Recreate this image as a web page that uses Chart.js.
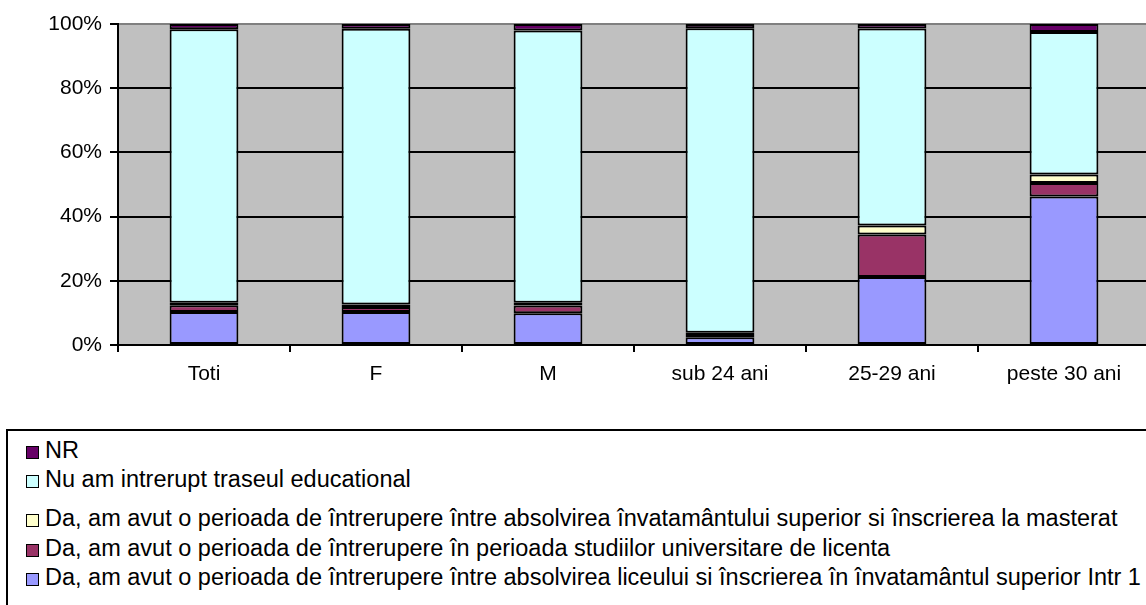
<!DOCTYPE html>
<html>
<head>
<meta charset="utf-8">
<script src="https://cdn.jsdelivr.net/npm/chart.js@4.4.0/dist/chart.umd.min.js"></script>
<style>
  html, body { margin: 0; padding: 0; background: #fff; overflow: hidden; width: 1146px; height: 605px; }
  #wrap { position: absolute; left: 0; top: 0; width: 1152px; height: 400px; }
  #legend {
    position: absolute; left: 6px; top: 429px; width: 1160px; height: 190px;
    border: 2px solid #000; box-sizing: border-box;
    font-family: "Liberation Sans", Arial, sans-serif; font-size: 23.5px; color: #000;
  }
  .item { position: absolute; left: 18px; height: 24px; line-height: 24px; white-space: nowrap; }
  .box { display: inline-block; width: 11px; height: 11px; border: 1.5px solid #000; margin-right: 6px; vertical-align: -1px; }
</style>
</head>
<body>
<div id="wrap"><canvas id="chart"></canvas></div>
<div id="legend"></div>
<script>
const categories = ["Toti", "F", "M", "sub 24 ani", "25-29 ani", "peste 30 ani"];

// stacked from bottom to top, in percent
const liceuSuperior = [10.3, 10.3, 9.9, 2.4, 21.2, 46.3];
const inLicenta = [2.1, 1.5, 2.4, 1.0, 13.2, 4.2];
const superiorMasterat = [0.8, 0.8, 0.9, 0.4, 2.8, 2.6];
const neintrerupt = [85.2, 85.9, 84.8, 94.9, 61.4, 44.4];
const nr = [1.6, 1.5, 2.0, 1.3, 1.4, 2.5];

const seriesNames = [
  "Da, am avut o perioada de întrerupere între absolvirea liceului si înscrierea în învatamântul superior Intr 1",
  "Da, am avut o perioada de întrerupere în perioada studiilor universitare de licenta",
  "Da, am avut o perioada de întrerupere între absolvirea învatamântului superior si înscrierea la masterat",
  "Nu am intrerupt traseul educational",
  "NR"
];
const seriesColors = ["#9999FF", "#993366", "#FFFFCC", "#CCFFFF", "#660066"];
const seriesData = [liceuSuperior, inLicenta, superiorMasterat, neintrerupt, nr];

const yTicks = [0, 20, 40, 60, 80, 100];

const plotBg = {
  id: "plotBg",
  beforeDraw(chart) {
    const a = chart.chartArea;
    const c = chart.ctx;
    c.save();
    c.fillStyle = "#C0C0C0";
    c.fillRect(a.left, a.top, a.right - a.left, a.bottom - a.top);
    c.restore();
  }
};

const font = { family: "'Liberation Sans', Arial, sans-serif", size: 21 };

new Chart(document.getElementById("chart"), {
  type: "bar",
  data: {
    labels: categories,
    datasets: seriesData.map((d, i) => ({
      label: seriesNames[i],
      data: d,
      backgroundColor: seriesColors[i],
      borderColor: "#000",
      borderWidth: 2,
      borderSkipped: false,
      barPercentage: 0.4,
      categoryPercentage: 1
    }))
  },
  options: {
    responsive: true,
    maintainAspectRatio: false,
    animation: false,
    layout: { padding: { top: 24, right: 2, left: 0, bottom: 0 } },
    plugins: { legend: { display: false }, tooltip: { enabled: false } },
    scales: {
      x: {
        stacked: true,
        grid: { drawOnChartArea: false, drawTicks: true, tickLength: 7, color: "#000", lineWidth: 2, offset: true },
        border: { color: "#000", width: 2 },
        ticks: { color: "#000", font: font, padding: 10, maxRotation: 0 },
        afterFit: (s) => { s.height = 55; }
      },
      y: {
        stacked: true,
        min: 0,
        max: 100,
        afterBuildTicks: (s) => { s.ticks = yTicks.map(v => ({ value: v })); },
        grid: {
          color: (c) => (c.tick && c.tick.value === 100 ? "#808080" : "#000"),
          lineWidth: 2,
          tickLength: 8,
          tickColor: "#000"
        },
        border: { color: "#000", width: 2 },
        ticks: { color: "#000", font: font, padding: 8, callback: (v) => v + "%" },
        afterFit: (s) => { s.width = 118; }
      }
    }
  },
  plugins: [plotBg]
});

// legend, top entry is the top of the stack
const legend = document.getElementById("legend");
const legendTops = [7, 36, 75, 105, 134];
seriesNames.slice().reverse().forEach((name, i) => {
  const idx = seriesNames.length - 1 - i;
  const it = document.createElement("div");
  it.className = "item";
  it.style.top = legendTops[i] + "px";
  it.innerHTML = '<span class="box" style="background:' + seriesColors[idx] + '"></span>' + name;
  legend.appendChild(it);
});
</script>
</body>
</html>
